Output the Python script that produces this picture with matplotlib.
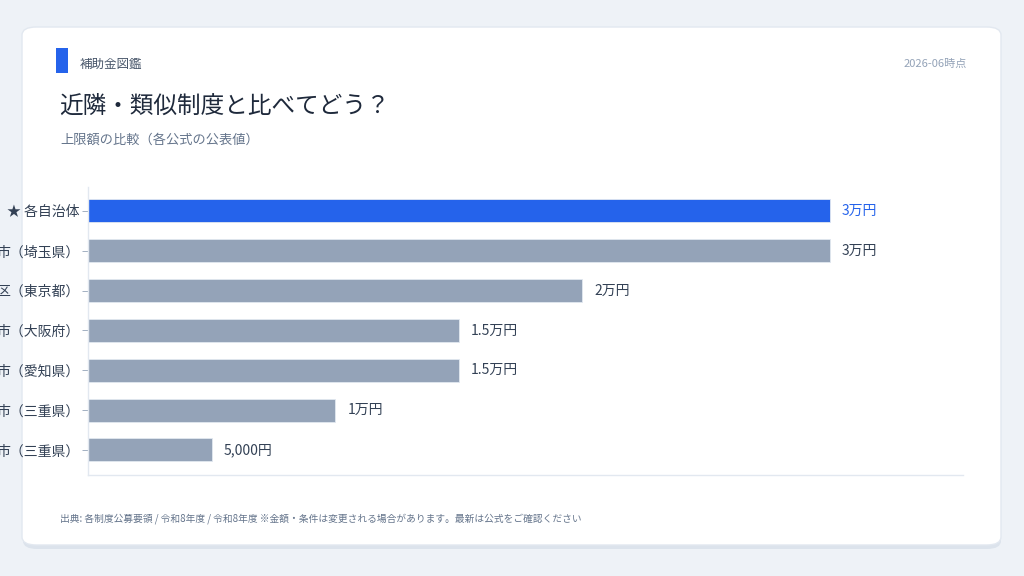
import matplotlib.pyplot as plt
from matplotlib.patches import FancyBboxPatch, Rectangle

plt.rcParams['font.family'] = ['Noto Sans CJK JP', 'DejaVu Sans']

# data (labels are cut off at the left edge in the source image)
labels = ["★ 各自治体", "市（埼玉県）", "区（東京都）", "市（大阪府）",
          "市（愛知県）", "市（三重県）", "市（三重県）"]
amounts = [30000, 30000, 20000, 15000, 15000, 10000, 5000]
amount_text = ["3万円", "3万円", "2万円", "1.5万円", "1.5万円", "1万円", "5,000円"]
highlight = [True, False, False, False, False, False, False]

BG = "#EEF2F7"
BLUE = "#2563EB"
GRAY = "#94A3B8"
DARK = "#334155"
MUTED = "#64748B"

W, H = 1024, 576
fig = plt.figure(figsize=(W / 100, H / 100), dpi=100)
fig.patch.set_facecolor(BG)


def fx(px):
    return px / W


def fy(py):
    return 1 - py / H


# card with a soft bottom shadow
shadow = FancyBboxPatch((fx(23), fy(549)), fx(978), 520 / H,
                        boxstyle="round,pad=0,rounding_size=0.014",
                        transform=fig.transFigure, facecolor="#DCE3EC",
                        edgecolor="none", zorder=0)
card = FancyBboxPatch((fx(22), fy(545)), fx(979), 518 / H,
                      boxstyle="round,pad=0,rounding_size=0.014",
                      transform=fig.transFigure, facecolor="white",
                      edgecolor="#E2E8F0", linewidth=1, zorder=0.5)
fig.patches.extend([shadow, card])

# header
fig.patches.append(Rectangle((fx(56), fy(73)), fx(12), 25 / H,
                             transform=fig.transFigure, facecolor=BLUE,
                             edgecolor="none", zorder=1))
fig.text(fx(80), fy(64), "補助金図鑑", fontsize=9, color="#475569", va="center")
fig.text(fx(967), fy(64), "2026-06時点", fontsize=8, color=GRAY,
         va="center", ha="right")
fig.text(fx(59), fy(106), "近隣・類似制度と比べてどう？", fontsize=17,
         color="#1E293B", va="center")
fig.text(fx(60), fy(140), "上限額の比較（各公式の公表値）", fontsize=9.5,
         color=MUTED, va="center")
fig.text(fx(60), fy(519),
         "出典: 各制度公募要領 / 令和8年度 / 令和8年度 ※金額・条件は変更される場合があります。最新は公式をご確認ください",
         fontsize=7, color=MUTED, va="center")

# chart
ax = fig.add_axes([fx(88), fy(475), fx(963 - 88), (475 - 187) / H])
ax.set_facecolor("white")
ax.set_zorder(2)
ypos = list(range(len(labels)))
colors = [BLUE if h else GRAY for h in highlight]
ax.barh(ypos, amounts, height=0.58, color=colors, edgecolor="#E2E8F0",
        linewidth=0.6)
for y, v, t, h in zip(ypos, amounts, amount_text, highlight):
    ax.text(v + 500, y, t, va="center", ha="left", fontsize=10,
            color=BLUE if h else DARK)

ax.set_xlim(0, 35400)
ax.set_ylim(6.63, -0.6)
ax.set_yticks(ypos)
ax.set_yticklabels(labels, fontsize=10, color=DARK)
ax.set_xticks([])
ax.tick_params(axis="y", length=4, color=GRAY, width=0.6, pad=2)
for side in ("top", "right"):
    ax.spines[side].set_visible(False)
for side in ("left", "bottom"):
    ax.spines[side].set_color("#E2E8F0")
    ax.spines[side].set_linewidth(1)

fig.savefig("out.png", dpi=100, facecolor=BG)
